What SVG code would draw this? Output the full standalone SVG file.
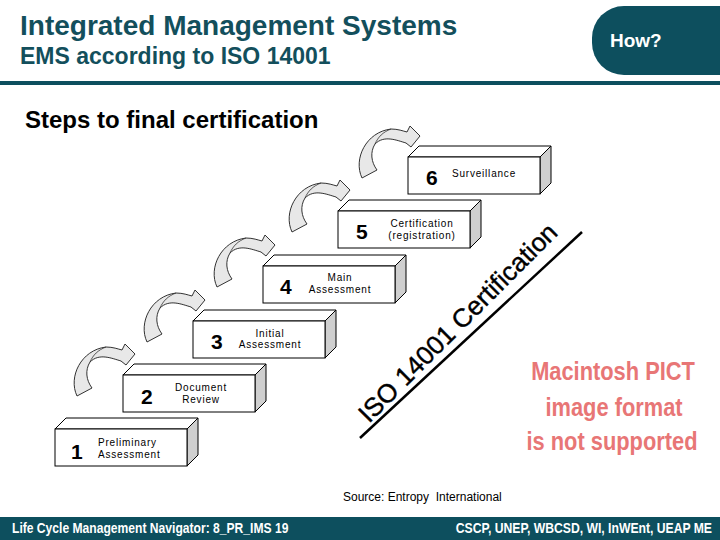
<svg xmlns="http://www.w3.org/2000/svg" xmlns:xlink="http://www.w3.org/1999/xlink" width="720" height="540" viewBox="0 0 720 540">
<style>
.title{font-family:"Liberation Sans",Arial,sans-serif;font-weight:bold;fill:#134f5c}
.front{fill:#fff;stroke:#000;stroke-width:1}
.top{fill:#fff;stroke:#000;stroke-width:1}
.side{fill:#cfcfcf;stroke:#000;stroke-width:1}
.num{font-family:"Liberation Sans",Arial,sans-serif;font-weight:bold;font-size:21px;fill:#000}
.lbl{font-family:"Liberation Sans",Arial,sans-serif;font-size:10px;letter-spacing:0.8px;fill:#000}
.arr{fill:#e8e8e8;stroke:#333;stroke-width:1}
.foot{font-family:"Liberation Sans",Arial,sans-serif;font-weight:bold;font-size:14px;fill:#fff}
.pict{font-family:"Liberation Sans",Arial,sans-serif;font-weight:bold;font-size:26px;fill:#e87676;text-anchor:middle}
</style>
<defs>
<g id="box">
<polygon class="top" points="0,0 11,-11 143,-11 132,0"/>
<polygon class="side" points="132,0 143,-11 143,26 132,37"/>
<rect class="front" x="0" y="0" width="132" height="37"/>
</g>
<g id="arrow">
<path class="arr" d="M -46,21 C -55,2 -42,-25 -17,-28 C -10,-28 -5,-26 -1,-25 L 2,-31 L 12,-21 L 3,-10 L -2,-14 C -12,-17 -24,-22 -33,-13 C -38,-5 -37,5 -31,13 Z"/>
<path d="M -33,-13 C -30,-20 -25,-25 -17,-28" fill="none" stroke="#333" stroke-width="0.8"/>
</g>
</defs>
<rect width="720" height="540" fill="#fff"/>
<g id="header">
<text class="title" x="20" y="35" font-size="28">Integrated Management Systems</text>
<text class="title" x="20" y="64" font-size="23">EMS according to ISO 14001</text>
<rect x="592" y="6" width="170" height="69" rx="32" fill="#0d4f5e"/>
<text x="610" y="47" font-family="Liberation Sans,Arial,sans-serif" font-weight="bold" font-size="19" fill="#fff">How?</text>
<rect x="0" y="81" width="720" height="4" fill="#0d4f5e"/>
</g>
<text x="25" y="128" font-family="Liberation Sans,Arial,sans-serif" font-weight="bold" font-size="24" fill="#000">Steps to final certification</text>
<g id="connectors">
<use xlink:href="#arrow" transform="translate(123,375)"/>
<use xlink:href="#arrow" transform="translate(193,321)"/>
<use xlink:href="#arrow" transform="translate(263,266)"/>
<use xlink:href="#arrow" transform="translate(338,211)"/>
<use xlink:href="#arrow" transform="translate(408,157)"/>
</g>
<g id="step1" transform="translate(55,429)">
<use xlink:href="#box"/>
<text class="num" x="16" y="30">1</text>
<text class="lbl" x="43" y="17">Preliminary</text>
<text class="lbl" x="43" y="28.5">Assessment</text>
</g>
<g id="step2" transform="translate(123,375)">
<use xlink:href="#box"/>
<text class="num" x="18" y="28.5">2</text>
<text class="lbl" x="78" y="15.7" text-anchor="middle">Document</text>
<text class="lbl" x="78" y="27.7" text-anchor="middle">Review</text>
</g>
<g id="step3" transform="translate(193,321)">
<use xlink:href="#box"/>
<text class="num" x="18" y="27.5">3</text>
<text class="lbl" x="77" y="15.7" text-anchor="middle">Initial</text>
<text class="lbl" x="77" y="27.3" text-anchor="middle">Assessment</text>
</g>
<g id="step4" transform="translate(263,266)">
<use xlink:href="#box"/>
<text class="num" x="17" y="28">4</text>
<text class="lbl" x="77" y="15" text-anchor="middle">Main</text>
<text class="lbl" x="77" y="27" text-anchor="middle">Assessment</text>
</g>
<g id="step5" transform="translate(338,211)">
<use xlink:href="#box"/>
<text class="num" x="18" y="28">5</text>
<text class="lbl" x="84" y="15.7" text-anchor="middle">Certification</text>
<text class="lbl" x="84" y="28.3" text-anchor="middle">(registration)</text>
</g>
<g id="step6" transform="translate(408,157)">
<use xlink:href="#box"/>
<text class="num" x="18" y="27.5">6</text>
<text class="lbl" x="76" y="20.3" text-anchor="middle">Surveillance</text>
</g>
<g id="iso">
<line x1="360" y1="438" x2="582" y2="232" stroke="#000" stroke-width="2.5"/>
<text x="369" y="424" transform="rotate(-45 369 424)" font-family="Liberation Sans,Arial,sans-serif" font-size="26" fill="#000" stroke="#000" stroke-width="0.4">ISO 14001 Certification</text>
</g>
<g id="pict">
<text class="pict" transform="translate(613,380) scale(0.84,1)">Macintosh PICT</text>
<text class="pict" transform="translate(614,416) scale(0.84,1)">image format</text>
<text class="pict" transform="translate(612,450) scale(0.84,1)">is not supported</text>
</g>
<text x="343" y="501" font-family="Liberation Sans,Arial,sans-serif" font-size="12" fill="#000">Source: Entropy&#160; International</text>
<g id="footer">
<rect x="0" y="517" width="720" height="23" fill="#0d4f5e"/>
<text class="foot" transform="translate(12,533) scale(0.865,1)">Life Cycle Management Navigator: 8_PR_IMS 19</text>
<text class="foot" text-anchor="end" transform="translate(712,533) scale(0.87,1)">CSCP, UNEP, WBCSD, WI, InWEnt, UEAP ME</text>
</g>
</svg>
